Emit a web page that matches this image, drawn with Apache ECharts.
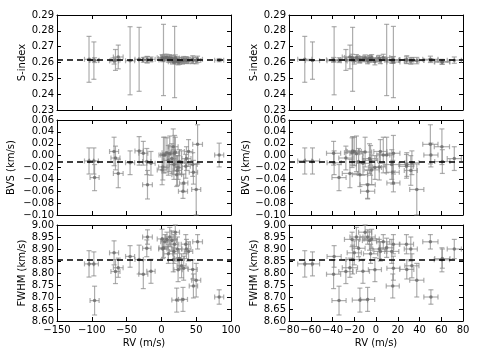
<!DOCTYPE html>
<html>
<head>
<meta charset="utf-8">
<script src="https://cdn.jsdelivr.net/npm/echarts@6/dist/echarts.min.js"></script>
<style>html,body{margin:0;padding:0;background:#fff}#main{width:480px;height:360px}</style>
</head>
<body>
<div id="main"></div>
<script>
// one entry per observation
const rv = [-104, -97, -96, -66, -62, -68, -45, -32, -26, -20, -21, -15, 1, 2, 3, 5, 8, 12, 15, 17, 19, 18, 22, 31, 32, 26, 36, 45, 46, 50, 52, 83, 24, 29, 39, 20, 10, 23, 35];
const rvRes = [-65.5, -58.4, -34, -27.7, -24, -20, -38.5, -21.5, -39, -7.7, -16, -12, -4, 3, 9.8, 6.7, -22, -18, -6, 60.6, 16, 14.5, -14.8, -7.7, 16, 61, 72, 28.3, 15.4, 37.5, 50, 50.5, -1, 33, 4, -10, -5, 32, 28];
const rvErr = [6.5, 6.5, 6.5, 6.5, 7, 6.5, 6.5, 6, 6.5, 7, 6, 6, 7, 6, 6.5, 6, 7, 6, 6.5, 7, 6, 6.5, 7, 6.5, 6, 7, 6.5, 6.5, 6, 6.5, 7, 6.5, 6, 6.5, 6, 6, 6.5, 6, 6.5];
const sIndex = [0.2620, 0.2612, 0.2615, 0.2616, 0.2635, 0.2610, 0.2611, 0.2620, 0.2617, 0.2618, 0.2618, 0.2620, 0.2630, 0.2625, 0.2616, 0.2632, 0.2632, 0.2630, 0.2625, 0.2605, 0.2603, 0.2615, 0.2618, 0.2612, 0.2618, 0.2603, 0.2615, 0.2618, 0.2615, 0.2612, 0.2620, 0.2615, 0.2605, 0.2612, 0.2613, 0.2628, 0.2622, 0.2610, 0.2616];
const sErr = [0.0145, 0.0118, 0.0015, 0.0066, 0.0075, 0.0020, 0.0215, 0.0202, 0.0015, 0.0020, 0.0020, 0.0015, 0.0020, 0.0020, 0.0225, 0.0020, 0.0020, 0.0020, 0.0020, 0.0015, 0.0225, 0.0020, 0.0020, 0.0020, 0.0020, 0.0015, 0.0020, 0.0025, 0.0020, 0.0020, 0.0020, 0.0010, 0.0020, 0.0020, 0.0020, 0.0020, 0.0020, 0.0020, 0.0020];
const bvs = [-0.009, -0.009, -0.037, -0.004, -0.030, 0.007, -0.012, 0.008, 0.004, -0.049, -0.010, -0.013, -0.024, -0.019, 0.001, 0.001, 0.005, 0.003, -0.005, 0.015, 0.004, -0.015, -0.032, -0.060, -0.046, -0.010, -0.005, -0.015, -0.028, -0.057, 0.019, 0.001, -0.020, -0.012, 0.007, 0.006, -0.008, -0.025, -0.018];
const bvsErr = [0.022, 0.022, 0.022, 0.020, 0.024, 0.024, 0.020, 0.024, 0.020, 0.024, 0.022, 0.020, 0.025, 0.022, 0.030, 0.030, 0.025, 0.030, 0.025, 0.030, 0.030, 0.025, 0.020, 0.012, 0.015, 0.020, 0.020, 0.020, 0.020, 0.043, 0.033, 0.020, 0.020, 0.020, 0.020, 0.025, 0.025, 0.025, 0.020];
const fwhm = [8.838, 8.838, 8.685, 8.806, 8.822, 8.884, 8.869, 8.856, 8.795, 8.950, 8.903, 8.807, 8.942, 8.900, 8.905, 8.930, 8.940, 8.950, 8.935, 8.855, 8.920, 8.890, 8.687, 8.690, 8.820, 8.860, 8.900, 8.815, 8.746, 8.770, 8.930, 8.700, 8.814, 8.830, 8.890, 8.970, 8.880, 8.900, 8.920];
const fwhmErr = [0.055, 0.050, 0.060, 0.050, 0.040, 0.050, 0.045, 0.060, 0.060, 0.030, 0.035, 0.050, 0.040, 0.040, 0.040, 0.030, 0.030, 0.040, 0.040, 0.050, 0.040, 0.050, 0.050, 0.050, 0.050, 0.040, 0.040, 0.040, 0.050, 0.070, 0.030, 0.030, 0.050, 0.050, 0.040, 0.030, 0.040, 0.050, 0.040];

const sMean = 0.2617, bvsMean = -0.0105, fwhmMean = 8.855;

const rows = [
  {name: 'S-index', y: sIndex, e: sErr, min: 0.23, max: 0.29, interval: 0.01, mean: sMean, top: 15, height: 95, gap: [30, 30]},
  {name: 'BVS (km/s)', y: bvs, e: bvsErr, min: -0.10, max: 0.06, interval: 0.02, mean: bvsMean, top: 120, height: 95, gap: [41, 34]},
  {name: 'FWHM (km/s)', y: fwhm, e: fwhmErr, min: 8.60, max: 9.00, interval: 0.05, mean: fwhmMean, top: 225, height: 96, gap: [28, 29]}
];
const cols = [
  {x: rv, min: -150, max: 100, interval: 50, left: 57},
  {x: rvRes, min: -80, max: 80, interval: 20, left: 289}
];

const font = {color: '#000', fontFamily: 'DejaVu Sans', fontSize: 10};
const minus = s => s.replace('-', '\u2212');
const fmtY = v => minus((Math.abs(v) < 1e-9 ? 0 : v).toFixed(2));
const fmtX = v => minus(String(Math.round(v)));

function renderErr(params, api) {
  const x = api.value(0), y = api.value(1), ex = api.value(2), ey = api.value(3);
  const cs = params.coordSys;
  const c = api.coord([x, y]);
  const t = api.coord([x, y + ey]), b = api.coord([x, y - ey]);
  const l = api.coord([x - ex, y]), r = api.coord([x + ex, y]);
  const cy = v => Math.max(cs.y, Math.min(cs.y + cs.height, v));
  const cx = v => Math.max(cs.x, Math.min(cs.x + cs.width, v));
  const style = {stroke: '#8a8a8a', lineWidth: 1.2, opacity: 0.7};
  const cap = 2.5;
  const kids = [
    {type: 'line', shape: {x1: c[0], y1: cy(t[1]), x2: c[0], y2: cy(b[1])}, style},
    {type: 'line', shape: {x1: cx(l[0]), y1: c[1], x2: cx(r[0]), y2: c[1]}, style}
  ];
  if (t[1] >= cs.y) kids.push({type: 'line', shape: {x1: c[0] - cap, y1: t[1], x2: c[0] + cap, y2: t[1]}, style});
  if (b[1] <= cs.y + cs.height) kids.push({type: 'line', shape: {x1: c[0] - cap, y1: b[1], x2: c[0] + cap, y2: b[1]}, style});
  if (l[0] >= cs.x) kids.push({type: 'line', shape: {x1: l[0], y1: c[1] - cap, x2: l[0], y2: c[1] + cap}, style});
  if (r[0] <= cs.x + cs.width) kids.push({type: 'line', shape: {x1: r[0], y1: c[1] - cap, x2: r[0], y2: c[1] + cap}, style});
  return {type: 'group', children: kids};
}

const grid = [], xAxis = [], yAxis = [], series = [];
const line = {show: true, onZero: false, lineStyle: {color: '#000', width: 1}};
const tick = {show: true, inside: true, length: 4, lineStyle: {color: '#000'}};

rows.forEach((row, ri) => {
  cols.forEach((col, ci) => {
    const k = grid.length;
    grid.push({left: col.left, top: row.top, width: 174, height: row.height});
    const bottom = ri === rows.length - 1;
    xAxis.push({
      gridIndex: k, type: 'value', position: 'bottom', min: col.min, max: col.max, interval: col.interval,
      axisLine: line, axisTick: tick, splitLine: {show: false},
      axisLabel: Object.assign({show: bottom, margin: 4, formatter: fmtX}, font),
      name: bottom ? 'RV (m/s)' : '', nameLocation: 'middle', nameGap: 17, nameTextStyle: font
    });
    xAxis.push({
      gridIndex: k, type: 'value', position: 'top', min: col.min, max: col.max, interval: col.interval,
      axisLine: line, axisTick: tick, splitLine: {show: false}, axisLabel: {show: false}
    });
    yAxis.push({
      gridIndex: k, type: 'value', position: 'left', min: row.min, max: row.max, interval: row.interval,
      axisLine: line, axisTick: tick, splitLine: {show: false},
      axisLabel: Object.assign({margin: 3, formatter: fmtY}, font),
      name: row.name, nameLocation: 'middle', nameRotate: 90, nameGap: row.gap[ci], nameTextStyle: font
    });
    yAxis.push({
      gridIndex: k, type: 'value', position: 'right', min: row.min, max: row.max, interval: row.interval,
      axisLine: line, axisTick: tick, splitLine: {show: false}, axisLabel: {show: false}
    });
    const errData = col.x.map((v, i) => [v, row.y[i], rvErr[i], row.e[i]]);
    series.push({
      type: 'custom', xAxisIndex: 2 * k, yAxisIndex: 2 * k, z: 2,
      renderItem: renderErr, encode: {x: 0, y: 1}, data: errData, silent: true
    });
    series.push({
      type: 'scatter', xAxisIndex: 2 * k, yAxisIndex: 2 * k, z: 3, symbolSize: 3.5,
      itemStyle: {color: '#6a6a6a'},
      data: col.x.map((v, i) => [v, row.y[i]]),
      markLine: {
        silent: true, symbol: 'none', precision: 6, label: {show: false},
        lineStyle: {color: '#000', type: [6, 4], width: 1.5},
        data: [{yAxis: row.mean}]
      }
    });
  });
});

const chart = echarts.init(document.getElementById('main'), null, {renderer: 'canvas'});
chart.setOption({animation: false, backgroundColor: '#fff', grid, xAxis, yAxis, series});
</script>
</body>
</html>
